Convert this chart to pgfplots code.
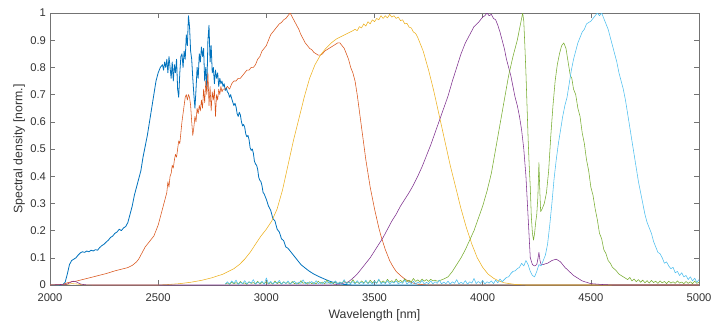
\documentclass[border=0pt]{standalone}
\usepackage{fontspec}
\setmainfont{Liberation Sans}
\usepackage{pgfplots}
\pgfplotsset{compat=1.18}
\definecolor{mblue}{rgb}{0,0.447,0.741}
\definecolor{morange}{rgb}{0.85,0.325,0.098}
\definecolor{myellow}{rgb}{0.929,0.694,0.125}
\definecolor{mpurple}{rgb}{0.494,0.184,0.556}
\definecolor{mgreen}{rgb}{0.466,0.674,0.188}
\definecolor{mcyan}{rgb}{0.301,0.745,0.933}
\begin{document}
\begin{tikzpicture}
\begin{axis}[
  scale only axis, width=649pt, height=272pt,
  xmin=2000, xmax=5000, ymin=0, ymax=1,
  xtick={2000,2500,...,5000}, ytick={0,0.1,...,1.0},
  /pgf/number format/1000 sep={},
  /pgf/number format/assume math mode=true,
  tick align=inside, major tick length=5pt,
  axis line style={black!55, line width=0.5pt},
  every tick/.style={black!55, line width=0.5pt},
  tick label style={text=black!80, font=\fontsize{11.2}{13}\selectfont},
  xticklabel style={yshift=-5.5pt},
  yticklabel style={xshift=-0.5pt},
  xlabel={Wavelength [nm]}, ylabel={Spectral density [norm.]},
  label style={font=\fontsize{12.3}{14}\selectfont, text=black!80},
  xlabel style={at={(axis description cs:0.5,0)}, anchor=north, inner sep=0pt, yshift=-24pt},
  ylabel style={at={(axis description cs:-0.0385,0.5)}, anchor=south, inner sep=0pt},
  every axis plot/.append style={line width=0.55pt, line join=round},
]
\coordinate (sw) at (rel axis cs:0,0);
\coordinate (ne) at (rel axis cs:1,1);
% series 1 (blue)
\addplot[mblue, line width=0.8pt] coordinates {
(2000,0)(2040,0)(2060,0.002)(2070,0.01)(2080,0.04)(2090,0.075)(2100,0.09)(2110,0.095)(2120,0.1)(2130,0.11)(2140,0.118)(2150,0.122)(2160,0.12)(2170,0.125)(2180,0.122)(2190,0.128)(2200,0.125)(2210,0.13)(2220,0.128)(2230,0.138)(2240,0.145)(2250,0.15)(2260,0.158)(2270,0.165)(2280,0.175)(2290,0.18)(2300,0.19)(2310,0.195)(2320,0.205)(2330,0.2)(2340,0.21)(2350,0.215)(2360,0.23)(2370,0.26)(2380,0.29)(2390,0.33)(2400,0.36)(2410,0.39)(2420,0.42)(2430,0.47)(2440,0.51)(2450,0.55)(2460,0.6)(2470,0.65)(2480,0.7)(2490,0.75)(2500,0.78)(2510,0.8)(2520,0.81)
(2525,0.79)(2530,0.82)(2535,0.8)(2540,0.83)(2545,0.78)(2550,0.84)(2555,0.8)(2560,0.76)(2565,0.82)(2570,0.75)(2575,0.81)(2580,0.78)(2585,0.83)(2590,0.72)(2595,0.69)(2600,0.78)(2605,0.84)(2610,0.85)(2615,0.8)(2620,0.86)(2625,0.83)(2630,0.92)(2635,0.88)(2640,0.99)(2645,0.95)(2650,0.86)(2655,0.83)(2660,0.76)(2665,0.7)(2670,0.65)(2675,0.72)(2680,0.8)(2685,0.76)(2690,0.85)(2695,0.82)(2700,0.875)(2705,0.84)(2710,0.87)(2715,0.75)(2720,0.8)(2725,0.72)(2730,0.9)(2735,0.955)(2740,0.82)(2745,0.88)(2750,0.78)(2755,0.8)(2760,0.74)(2765,0.79)(2770,0.76)(2775,0.78)(2780,0.73)(2785,0.76)(2790,0.74)(2795,0.75)
(2800,0.73)(2805,0.74)(2810,0.715)(2815,0.725)(2820,0.71)(2825,0.705)(2830,0.69)(2835,0.7)(2840,0.685)(2845,0.672)(2850,0.66)(2855,0.668)(2860,0.655)(2865,0.63)(2870,0.62)(2875,0.635)(2880,0.625)(2885,0.6)(2890,0.585)(2895,0.59)(2900,0.58)(2905,0.555)(2910,0.545)(2915,0.55)(2920,0.535)(2925,0.505)(2930,0.495)(2935,0.5)(2940,0.485)(2945,0.455)(2950,0.445)(2955,0.44)(2960,0.425)(2965,0.395)(2970,0.385)(2975,0.38)(2980,0.365)(2985,0.34)(2990,0.335)(2995,0.325)(3000,0.315)(3010,0.29)(3020,0.275)(3030,0.245)(3040,0.235)(3050,0.205)(3060,0.195)(3070,0.17)(3080,0.163)(3090,0.14)(3100,0.135)(3120,0.115)(3140,0.095)(3160,0.075)(3180,0.062)(3200,0.05)(3220,0.04)(3240,0.032)(3260,0.025)(3280,0.018)(3300,0.012)(3320,0.008)(3340,0.004)(3360,0.002)(3400,0)(5000,0)
};
% series 2 (orange)
\addplot[morange] coordinates {
(2000,0)(2060,0.002)(2080,0.008)(2100,0.012)(2120,0.014)(2140,0.018)(2160,0.022)(2180,0.026)(2200,0.03)(2220,0.034)(2240,0.038)(2260,0.042)(2280,0.047)(2300,0.052)(2320,0.056)(2340,0.06)(2360,0.064)(2380,0.072)(2400,0.085)(2410,0.095)(2420,0.11)(2430,0.125)(2440,0.14)(2450,0.15)(2460,0.16)(2470,0.17)(2480,0.18)(2490,0.2)(2500,0.22)(2510,0.25)(2520,0.28)(2530,0.31)(2540,0.34)(2545,0.38)(2550,0.36)(2555,0.4)(2560,0.41)(2565,0.44)(2570,0.43)(2575,0.46)(2580,0.48)(2585,0.47)(2590,0.5)(2595,0.53)(2600,0.52)(2605,0.56)(2610,0.6)(2615,0.63)(2620,0.66)(2625,0.69)(2630,0.7)(2635,0.68)(2640,0.7)(2645,0.69)(2650,0.66)(2655,0.6)(2660,0.55)(2665,0.58)(2670,0.62)(2675,0.6)(2680,0.65)(2685,0.63)(2690,0.66)(2695,0.64)(2700,0.68)(2705,0.65)(2710,0.72)(2715,0.67)(2720,0.75)(2725,0.7)(2730,0.78)(2735,0.66)(2740,0.73)(2745,0.64)(2750,0.71)(2755,0.68)(2760,0.72)(2765,0.62)(2770,0.7)(2775,0.68)(2780,0.72)(2785,0.7)(2790,0.73)(2795,0.71)(2800,0.72)
(2810,0.72)(2820,0.73)(2830,0.72)(2840,0.74)(2850,0.75)(2860,0.75)(2870,0.76)(2880,0.76)(2890,0.77)(2900,0.78)(2910,0.79)(2920,0.79)(2930,0.8)(2940,0.8)(2950,0.81)(2960,0.83)(2970,0.84)(2980,0.86)(2990,0.87)(3000,0.88)(3010,0.9)(3020,0.92)(3030,0.93)(3040,0.94)(3050,0.95)(3060,0.96)(3070,0.965)(3080,0.975)(3090,0.98)(3100,0.99)(3110,1.0)(3120,0.985)(3130,0.97)(3140,0.955)(3150,0.94)(3160,0.92)(3170,0.905)(3180,0.89)(3190,0.88)(3200,0.87)(3210,0.865)(3220,0.855)(3230,0.85)(3240,0.845)(3250,0.845)(3260,0.85)(3270,0.86)(3280,0.865)(3290,0.87)(3300,0.875)(3310,0.88)(3320,0.885)(3330,0.89)(3340,0.89)(3350,0.88)(3360,0.87)(3370,0.85)(3380,0.83)(3390,0.8)(3400,0.78)(3410,0.75)(3420,0.7)(3430,0.64)(3440,0.58)(3450,0.52)(3460,0.46)(3470,0.41)(3480,0.36)(3490,0.32)(3500,0.28)(3510,0.245)(3520,0.21)(3530,0.18)(3540,0.155)(3550,0.13)(3560,0.11)(3570,0.09)(3580,0.075)(3590,0.062)(3600,0.05)(3620,0.035)(3640,0.022)(3660,0.013)(3680,0.007)(3700,0.003)(3750,0)(5000,0)
};
% series 3 (yellow)
\addplot[myellow] coordinates {
(2000,0)(2080,0.002)(2100,0.005)(2120,0.004)(2150,0.001)(2200,0)(2500,0)(2550,0.002)(2600,0.005)(2650,0.01)(2700,0.017)(2750,0.027)(2800,0.04)(2825,0.05)(2850,0.06)(2875,0.075)(2900,0.095)(2925,0.12)(2950,0.15)(2975,0.18)(3000,0.205)(3025,0.235)(3050,0.28)(3075,0.35)(3100,0.44)(3125,0.53)(3150,0.61)(3175,0.69)(3200,0.76)(3225,0.81)(3250,0.845)(3275,0.87)(3300,0.89)(3325,0.905)(3350,0.915)(3375,0.925)
(3400,0.935)(3410,0.94)(3420,0.935)(3430,0.95)(3440,0.945)(3450,0.96)(3460,0.952)(3470,0.968)(3480,0.96)(3490,0.975)(3500,0.968)(3510,0.98)(3520,0.975)(3530,0.99)(3540,0.98)(3550,0.99)(3560,0.982)(3570,0.995)(3580,0.985)(3590,0.99)(3600,0.98)(3610,0.985)(3620,0.972)(3630,0.975)(3640,0.96)(3650,0.962)(3660,0.948)(3670,0.945)(3680,0.93)(3690,0.925)(3700,0.91)
(3725,0.86)(3750,0.79)(3775,0.71)(3800,0.62)(3825,0.53)(3850,0.44)(3875,0.36)(3900,0.28)(3925,0.21)(3950,0.15)(3975,0.1)(4000,0.065)(4025,0.04)(4050,0.025)(4075,0.015)(4100,0.008)(4150,0.002)(4200,0)(5000,0)
};
% series 4 (purple)
\addplot[mpurple] coordinates {
(2000,0)(2080,0.003)(2090,0.008)(2100,0.012)(2110,0.014)(2120,0.012)(2130,0.008)(2140,0.004)(2160,0.001)(2200,0)(3300,0)(3340,0.003)(3380,0.012)(3400,0.025)(3420,0.04)(3440,0.06)(3460,0.08)(3480,0.1)(3500,0.125)(3520,0.15)(3540,0.175)(3560,0.205)(3580,0.235)(3600,0.26)(3620,0.29)(3640,0.315)(3660,0.34)(3680,0.368)(3700,0.4)(3720,0.435)(3740,0.475)(3760,0.515)(3780,0.56)(3800,0.605)(3820,0.65)(3840,0.695)(3860,0.75)(3880,0.8)(3900,0.85)(3920,0.89)(3940,0.92)(3960,0.95)(3980,0.965)(4000,0.985)(4010,0.99)(4020,1.0)(4030,0.99)(4040,0.995)(4050,0.98)(4060,0.975)(4070,0.955)(4080,0.93)(4090,0.9)(4100,0.87)(4110,0.83)(4120,0.8)(4130,0.77)(4140,0.73)(4150,0.69)(4160,0.66)(4170,0.62)(4180,0.57)(4190,0.5)(4200,0.4)(4210,0.25)(4220,0.1)(4230,0.075)(4240,0.07)(4250,0.075)(4255,0.095)(4260,0.12)(4265,0.09)(4270,0.075)(4280,0.075)(4290,0.078)(4300,0.08)(4320,0.09)(4340,0.095)(4360,0.085)(4380,0.065)(4400,0.05)(4420,0.035)(4440,0.025)(4460,0.015)(4480,0.01)(4500,0.005)(4550,0.002)(4600,0)(5000,0)
};
% series 5 (green)
\addplot[mgreen] coordinates {
(2810,0.003)(2820,0.008)(2830,0.002)(2840,0.011)(2850,0.004)(2860,0.009)(2870,0.003)(2880,0.013)(2890,0.005)(2900,0.008)(2910,0.002)(2920,0.012)(2930,0.006)(2940,0.009)(2950,0.004)(2960,0.014)(2970,0.003)(2980,0.01)(2990,0.005)(3000,0.012)(3010,0.004)(3020,0.009)(3030,0.003)(3040,0.015)(3050,0.005)(3060,0.01)(3070,0.004)(3080,0.012)(3090,0.006)(3100,0.009)(3110,0.003)(3120,0.013)(3130,0.005)(3140,0.008)(3150,0.004)(3160,0.016)(3170,0.006)(3180,0.01)(3190,0.003)(3200,0.012)(3210,0.005)(3220,0.009)(3230,0.004)(3240,0.014)(3250,0.006)(3260,0.011)(3270,0.004)(3280,0.018)(3290,0.006)(3300,0.01)(3310,0.005)(3320,0.013)(3330,0.004)(3340,0.011)(3350,0.007)(3360,0.016)(3370,0.005)(3380,0.012)(3390,0.006)(3400,0.02)(3410,0.007)(3420,0.012)(3430,0.005)(3440,0.015)(3450,0.008)(3460,0.013)(3470,0.006)(3480,0.018)(3490,0.008)(3500,0.014)(3510,0.007)(3520,0.019)(3530,0.009)(3540,0.015)(3550,0.008)(3560,0.021)(3570,0.01)(3580,0.016)(3590,0.009)(3600,0.022)(3610,0.011)(3620,0.017)(3630,0.01)(3640,0.023)(3650,0.012)(3660,0.018)(3670,0.011)(3680,0.024)(3690,0.013)(3700,0.019)(3710,0.012)(3720,0.022)(3730,0.014)(3740,0.02)(3750,0.013)(3760,0.021)(3770,0.015)(3780,0.018)(3790,0.014)
(3800,0.016)(3820,0.022)(3840,0.03)(3860,0.05)(3880,0.075)(3900,0.1)(3920,0.13)(3940,0.165)(3960,0.2)(3980,0.245)(4000,0.29)(4020,0.345)(4040,0.41)(4060,0.5)(4080,0.59)(4100,0.68)(4120,0.77)(4140,0.84)(4160,0.9)(4170,0.94)(4180,0.98)(4185,1.0)(4190,0.97)(4195,0.88)(4200,0.78)(4205,0.66)(4210,0.54)(4215,0.44)(4220,0.36)(4225,0.25)(4230,0.19)(4235,0.165)(4240,0.19)(4245,0.23)(4250,0.26)(4255,0.32)(4260,0.45)(4264,0.35)(4268,0.27)(4275,0.28)(4285,0.3)(4295,0.34)(4305,0.42)(4315,0.55)(4325,0.66)(4335,0.75)(4345,0.81)(4355,0.85)(4365,0.88)(4375,0.89)(4385,0.87)(4395,0.82)(4405,0.77)(4412,0.76)(4420,0.72)(4430,0.7)(4440,0.65)(4450,0.62)(4460,0.56)(4470,0.52)(4480,0.46)(4490,0.42)(4500,0.36)(4510,0.33)(4520,0.28)(4530,0.24)(4540,0.19)(4550,0.17)(4560,0.13)(4570,0.115)(4580,0.09)(4590,0.08)(4600,0.065)(4610,0.058)(4620,0.05)(4630,0.04)(4640,0.035)(4650,0.03)(4660,0.025)
(4670,0.02)(4680,0.028)(4690,0.015)(4700,0.022)(4710,0.012)(4720,0.02)(4730,0.01)(4740,0.018)(4750,0.008)(4760,0.016)(4770,0.007)(4780,0.017)(4790,0.009)(4800,0.014)(4810,0.006)(4820,0.015)(4830,0.008)(4840,0.013)(4850,0.005)(4860,0.014)(4870,0.007)(4880,0.012)(4890,0.006)(4900,0.015)(4910,0.007)(4920,0.011)(4930,0.005)(4940,0.013)(4950,0.006)(4960,0.012)(4970,0.005)(4980,0.014)(4990,0.006)(5000,0.01)
};
% series 6 (light blue)
\addplot[mcyan] coordinates {
(2810,0.004)(2820,0.012)(2830,0.003)(2840,0.015)(2850,0.006)(2860,0.018)(2870,0.002)(2880,0.01)(2890,0.005)(2900,0.016)(2910,0.004)(2920,0.012)(2930,0.007)(2940,0.02)(2950,0.003)(2960,0.011)(2970,0.006)(2980,0.014)(2990,0.002)(3000,0.026)(3010,0.005)(3020,0.013)(3030,0.004)(3040,0.01)(3050,0.007)(3060,0.017)(3070,0.003)(3080,0.012)(3090,0.005)(3100,0.015)(3110,0.004)(3120,0.009)(3130,0.014)(3140,0.003)(3150,0.011)(3160,0.006)(3170,0.019)(3180,0.004)(3190,0.01)(3200,0.006)(3210,0.013)(3220,0.003)(3230,0.016)(3240,0.005)(3250,0.01)(3260,0.004)(3270,0.014)(3280,0.006)(3290,0.012)(3300,0.003)(3310,0.009)(3320,0.015)(3330,0.004)(3340,0.011)(3350,0.006)(3360,0.02)(3370,0.004)(3380,0.01)(3390,0.005)(3400,0.013)(3410,0.003)(3420,0.016)(3430,0.006)(3440,0.011)(3450,0.004)(3460,0.018)(3470,0.005)(3480,0.012)(3490,0.003)(3500,0.014)(3510,0.006)(3520,0.022)(3530,0.004)(3540,0.011)(3550,0.005)(3560,0.016)(3570,0.003)(3580,0.012)(3590,0.007)(3600,0.015)(3610,0.004)(3620,0.01)(3630,0.006)(3640,0.019)(3650,0.003)(3660,0.012)(3670,0.005)(3680,0.014)(3690,0.004)(3700,0.011)(3710,0.006)(3720,0.017)(3730,0.003)(3740,0.01)(3750,0.005)(3760,0.015)(3770,0.004)(3780,0.012)(3790,0.006)(3800,0.018)(3810,0.004)(3820,0.011)(3830,0.005)(3840,0.014)(3850,0.003)(3860,0.012)(3870,0.006)(3880,0.02)(3890,0.004)(3900,0.01)(3910,0.005)(3920,0.016)(3930,0.003)(3940,0.012)(3950,0.007)(3960,0.024)(3970,0.005)(3980,0.013)(3990,0.006)(4000,0.017)(4010,0.004)(4020,0.012)(4030,0.007)(4040,0.015)(4050,0.005)(4060,0.018)(4070,0.008)(4080,0.022)(4090,0.012)
(4100,0.02)(4110,0.028)(4120,0.03)(4130,0.042)(4140,0.05)(4150,0.052)(4160,0.06)(4170,0.065)(4180,0.08)(4190,0.07)(4200,0.09)(4210,0.075)(4220,0.05)(4230,0.035)(4240,0.03)(4250,0.05)(4260,0.075)(4270,0.07)(4280,0.09)(4290,0.11)(4300,0.15)(4310,0.22)(4320,0.3)(4330,0.39)(4340,0.46)(4350,0.52)(4360,0.57)(4370,0.62)(4380,0.66)(4390,0.69)(4400,0.74)(4410,0.79)(4420,0.83)(4430,0.86)(4440,0.89)(4450,0.91)(4460,0.93)(4470,0.94)(4480,0.96)(4490,0.965)(4500,0.97)(4510,0.98)(4520,0.99)(4530,1.0)(4540,0.99)(4550,1.0)(4560,0.98)(4570,0.96)(4580,0.94)(4590,0.91)(4600,0.88)(4610,0.85)(4620,0.82)(4630,0.78)(4640,0.75)(4650,0.72)(4660,0.68)(4670,0.63)(4680,0.58)(4690,0.53)(4700,0.48)(4710,0.43)(4720,0.38)(4730,0.34)(4740,0.3)(4750,0.26)(4760,0.23)(4770,0.21)(4780,0.19)(4790,0.16)(4800,0.14)(4810,0.12)(4820,0.115)(4830,0.1)(4840,0.08)(4850,0.085)(4860,0.07)(4870,0.06)(4880,0.065)(4890,0.045)(4900,0.05)(4910,0.035)(4920,0.045)(4930,0.03)(4940,0.035)(4950,0.02)(4960,0.03)(4970,0.015)(4980,0.025)(4990,0.01)(5000,0.02)
};
\end{axis}
\pgfresetboundingbox
\path[use as bounding box] ([shift={(-50pt,-37pt)}]sw) rectangle ([shift={(12pt,13pt)}]ne);
\end{tikzpicture}
\end{document}
